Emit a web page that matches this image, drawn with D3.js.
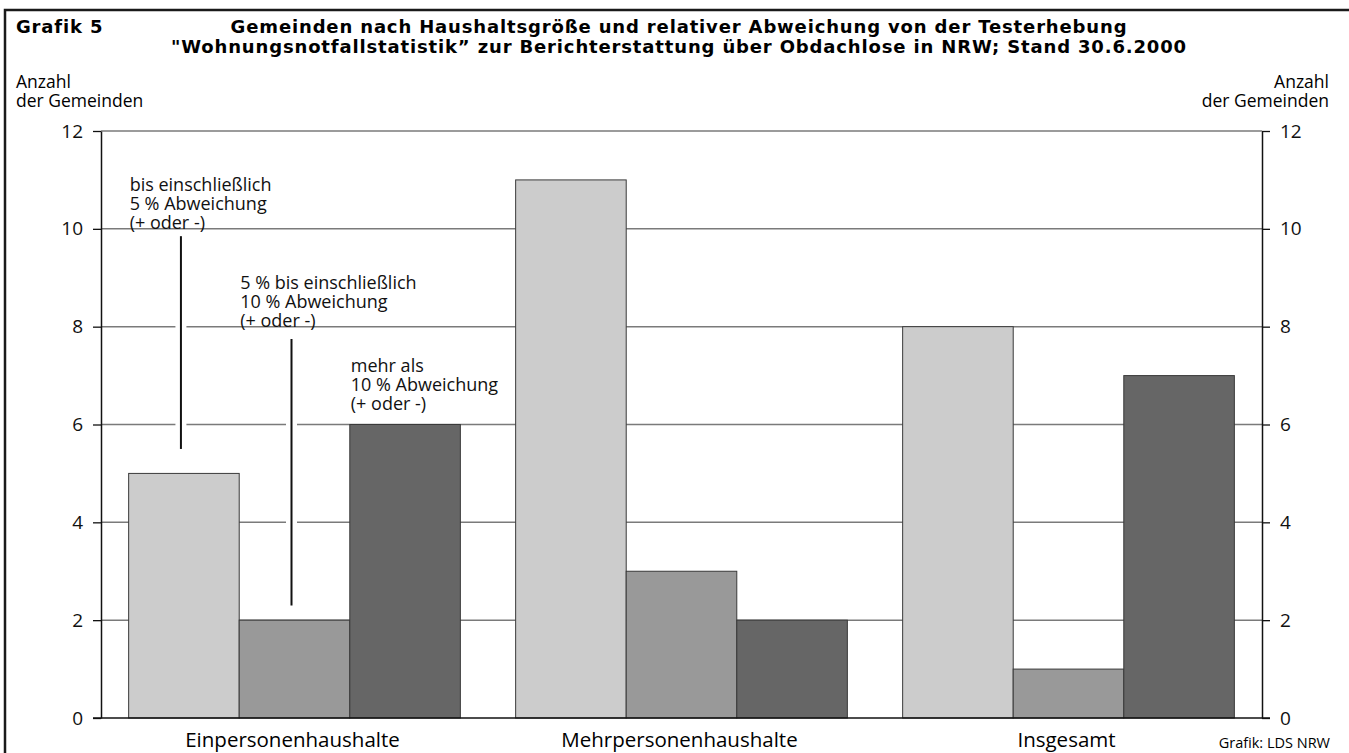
<!DOCTYPE html>
<html>
<head>
<meta charset="utf-8">
<script src="https://cdn.jsdelivr.net/npm/d3@7"></script>
<style>
  html, body { margin: 0; padding: 0; background: #fff; }
  svg { display: block; font-family: "Open Sans", "Noto Sans", sans-serif; }
</style>
</head>
<body>
<div id="chart"></div>
<script>
// Chart data
const categories = ["Einpersonenhaushalte", "Mehrpersonenhaushalte", "Insgesamt"];
const seriesKeys = ["bis5", "bis10", "mehr10"];
const seriesColors = ["#cccccc", "#999999", "#666666"];
const valuesBis5 = [5, 11, 8];     // bis einschließlich 5 % Abweichung
const valuesBis10 = [2, 3, 1];     // 5 % bis einschließlich 10 % Abweichung
const valuesMehr10 = [6, 2, 7];    // mehr als 10 % Abweichung
const yTicks = [0, 2, 4, 6, 8, 10, 12];

// Annotation texts (one per series, pointing into the first group)
const annotationTexts = [
  ["bis einschließlich", "5 % Abweichung", "(+ oder -)"],
  ["5 % bis einschließlich", "10 % Abweichung", "(+ oder -)"],
  ["mehr als", "10 % Abweichung", "(+ oder -)"]
];
const annotationTextBase = [10, 8, 6.3];      // value of last text baseline
const annotationLineFrom = [9.85, 7.75, null]; // pointer line top (value)
const annotationLineTo = [5.5, 2.3, null];     // pointer line bottom (value)

const titleLines = [
  "Gemeinden nach Haushaltsgröße und relativer Abweichung von der Testerhebung",
  "\"Wohnungsnotfallstatistik” zur Berichterstattung über Obdachlose in NRW; Stand 30.6.2000"
];

const W = 1349, H = 753;
const plotLeft = 101, plotRight = 1262, plotTop = 131, plotBottom = 718;
const titleFont = "\"DejaVu Sans\", sans-serif";

const svg = d3.select("#chart").append("svg")
  .attr("width", W)
  .attr("height", H);

// Frame (top + left)
svg.append("path")
  .attr("d", `M5,${H} V10 H${W}`)
  .attr("fill", "none")
  .attr("stroke", "#1a1a1a")
  .attr("stroke-width", 2.5);

// Title
svg.append("text")
  .attr("x", 16).attr("y", 33)
  .style("font-family", titleFont)
  .style("font-size", "18px").style("font-weight", "bold")
  .style("letter-spacing", "0.85px")
  .text("Grafik 5");

svg.selectAll("text.title")
  .data(titleLines)
  .join("text")
  .attr("class", "title")
  .attr("x", 679)
  .attr("y", (d, i) => 33 + i * 19.5)
  .attr("text-anchor", "middle")
  .style("font-family", titleFont)
  .style("font-size", "18px").style("font-weight", "bold")
  .style("letter-spacing", "0.85px")
  .text(d => d);

// Scales
const y = d3.scaleLinear().domain([0, 12]).range([plotBottom, plotTop]);
const x0 = d3.scaleBand().domain(categories).range([plotLeft, plotRight]);
const x1 = d3.scaleBand().domain(seriesKeys).range([0, x0.bandwidth()]).paddingOuter(0.25);

// Grid lines
svg.append("g")
  .selectAll("line")
  .data(yTicks.filter(d => d > 0))
  .join("line")
  .attr("x1", plotLeft).attr("x2", plotRight)
  .attr("y1", d => y(d)).attr("y2", d => y(d))
  .attr("stroke", "#7a7a7a")
  .attr("stroke-width", 1.5);

// Annotation pointer lines (white halo, then black line)
const pointerData = seriesKeys.map((k, i) => ({ key: k, from: annotationLineFrom[i], to: annotationLineTo[i] }))
  .filter(d => d.from !== null);
const pointerX = d => x0(categories[0]) + x1(d.key) + x1.bandwidth() / 2 - 3;

svg.append("g").selectAll("line")
  .data(pointerData)
  .join("line")
  .attr("x1", pointerX).attr("x2", pointerX)
  .attr("y1", d => y(d.from)).attr("y2", d => y(d.to))
  .attr("stroke", "#fff").attr("stroke-width", 11);

svg.append("g").selectAll("line")
  .data(pointerData)
  .join("line")
  .attr("x1", pointerX).attr("x2", pointerX)
  .attr("y1", d => y(d.from)).attr("y2", d => y(d.to))
  .attr("stroke", "#111").attr("stroke-width", 2);

// Bars
const allSeries = [valuesBis5, valuesBis10, valuesMehr10];
const barData = [];
categories.forEach((c, ci) => {
  seriesKeys.forEach((k, si) => {
    barData.push({ cat: c, key: k, value: allSeries[si][ci], color: seriesColors[si] });
  });
});

svg.append("g")
  .selectAll("rect")
  .data(barData)
  .join("rect")
  .attr("x", d => x0(d.cat) + x1(d.key))
  .attr("y", d => y(d.value))
  .attr("width", x1.bandwidth())
  .attr("height", d => y(0) - y(d.value))
  .attr("fill", d => d.color)
  .attr("stroke", "#3a3a3a")
  .attr("stroke-width", 1);

// Annotation texts
annotationTexts.forEach((lines, i) => {
  const tx = x0(categories[0]) + x1(seriesKeys[i]) + 1;
  const base = y(annotationTextBase[i]);
  svg.append("text")
    .attr("x", tx)
    .style("font-size", "18px")
    .style("fill", "#111")
    .selectAll("tspan")
    .data(lines)
    .join("tspan")
    .attr("x", tx)
    .attr("y", (d, j) => base - (lines.length - 1 - j) * 19)
    .text(d => d);
});

// Axes
const axisLeft = d3.axisLeft(y).tickValues(yTicks).tickSize(8).tickSizeOuter(0).tickPadding(10);
const axisRight = d3.axisRight(y).tickValues(yTicks).tickSize(8).tickSizeOuter(0).tickPadding(10);

const gl = svg.append("g").attr("transform", `translate(${plotLeft},0)`).call(axisLeft);
const gr = svg.append("g").attr("transform", `translate(${plotRight},0)`).call(axisRight);
[gl, gr].forEach(g => {
  g.select(".domain").attr("stroke", "#111").attr("stroke-width", 1.5);
  g.selectAll(".tick line").attr("stroke", "#111").attr("stroke-width", 1.3);
  g.selectAll(".tick text")
    .style("font-family", "\"Open Sans\", \"Noto Sans\", sans-serif")
    .style("font-size", "19px")
    .attr("fill", "#111");
});

// Baseline
svg.append("line")
  .attr("x1", plotLeft - 8).attr("x2", plotRight + 8)
  .attr("y1", y(0)).attr("y2", y(0))
  .attr("stroke", "#111").attr("stroke-width", 1.5);

// Category labels
svg.append("g")
  .selectAll("text")
  .data(categories)
  .join("text")
  .attr("x", d => x0(d) + x0.bandwidth() / 2 - 2)
  .attr("y", 747)
  .attr("text-anchor", "middle")
  .style("font-size", "20.5px")
  .text(d => d);

// Axis titles
svg.append("text")
  .attr("x", 16)
  .style("font-size", "17.5px")
  .selectAll("tspan")
  .data(["Anzahl", "der Gemeinden"])
  .join("tspan")
  .attr("x", 16)
  .attr("y", (d, i) => 88 + i * 19)
  .text(d => d);

svg.append("text")
  .attr("text-anchor", "end")
  .style("font-size", "17.5px")
  .selectAll("tspan")
  .data(["Anzahl", "der Gemeinden"])
  .join("tspan")
  .attr("x", 1329)
  .attr("y", (d, i) => 88 + i * 19)
  .text(d => d);

// Source
svg.append("text")
  .attr("x", 1330).attr("y", 748)
  .attr("text-anchor", "end")
  .style("font-size", "14.5px")
  .text("Grafik: LDS NRW");
</script>
</body>
</html>
